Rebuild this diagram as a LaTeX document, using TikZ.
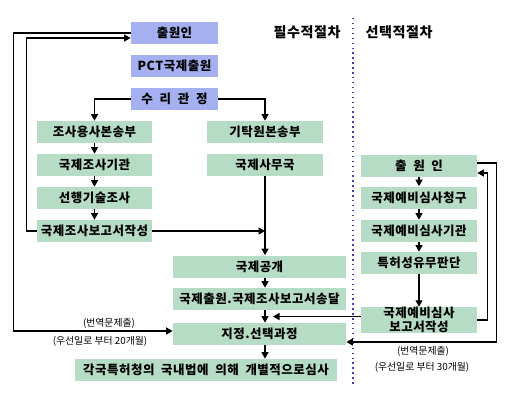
\documentclass[tikz,border=0pt]{standalone}
\usepackage{fontspec}
\newfontfamily\kr[LetterSpace=4,WordSpace=2]{Noto Sans CJK KR}
\newfontfamily\krnote{Noto Sans CJK KR}
\definecolor{recvblue}{RGB}{164,176,240}
\definecolor{stepgreen}{RGB}{182,220,198}
\definecolor{dotblue}{RGB}{70,60,190}
\usetikzlibrary{arrows.meta,positioning,calc}

\begin{document}
\begin{tikzpicture}[
  bluebox/.style={fill=recvblue, minimum width=1.74cm, minimum height=0.44cm, inner sep=0pt, font=\kr\bfseries\fontsize{7.1}{8}\selectfont},
  greenbox/.style={fill=stepgreen, minimum height=0.44cm, inner sep=0pt, font=\kr\bfseries\fontsize{7.1}{8}\selectfont},
  head/.style={font=\kr\bfseries\fontsize{8}{9}\selectfont},
  note/.style={font=\krnote\fontsize{5.6}{7}\selectfont},
  flow/.style={-{Triangle[length=1.3mm,width=1.4mm]}, line width=0.7pt}
]
  \useasboundingbox (0,0) rectangle (10.2,8.1);

  % Headings and divider
  \node[head] (must) at (6.14,7.46) {필수적절차};
  \node[head] (opt) at (7.98,7.46) {선택적절차};
  \draw[dotblue, dotted, thick] (7.06,7.74) -- (7.06,0.36);

  % PCT filing
  \node[bluebox] (chulwon) at (3.49,7.44) {출원인};
  \node[bluebox] (pct) at (3.49,6.78) {PCT국제출원};
  \node[bluebox] (suri) at (3.49,6.12) {수 리 관 정};

  % Search branch
  \node[greenbox, minimum width=2.30cm] (josa) at (1.89,5.46) {조사용사본송부};
  \node[greenbox, minimum width=2.30cm] (isa) at (1.89,4.80) {국제조사기관};
  \node[greenbox, minimum width=2.30cm] (prior) at (1.89,4.14) {선행기술조사};
  \node[greenbox, minimum width=2.30cm] (isr) at (1.89,3.48) {국제조사보고서작성};

  % Record copy branch
  \node[greenbox, minimum width=2.32cm] (gitak) at (5.30,5.46) {기탁원본송부};
  \node[greenbox, minimum width=2.32cm] (ib) at (5.30,4.80) {국제사무국};

  % Common steps
  \node[greenbox, minimum width=3.46cm] (pub) at (5.19,2.77) {국제공개};
  \node[greenbox, minimum width=3.46cm] (send) at (5.19,2.12) {국제출원.국제조사보고서송달};
  \node[greenbox, minimum width=3.46cm] (desig) at (5.19,1.42) {지정.선택과정};
  \node[greenbox, minimum width=5.24cm] (national) at (4.12,0.70) {각국특허청의 국내법에 의해 개별적으로심사};

  % Optional procedure
  \node[greenbox, minimum width=2.32cm] (chulwon2) at (8.38,4.79) {출 원 인};
  \node[greenbox, minimum width=2.32cm] (demand) at (8.38,4.15) {국제예비심사청구};
  \node[greenbox, minimum width=2.32cm] (ipea) at (8.38,3.48) {국제예비심사기관};
  \node[greenbox, minimum width=2.32cm] (patent) at (8.38,2.84) {특허성유무판단};
  \node[greenbox, minimum width=2.32cm, align=center] (iper) at (8.38,1.70) {국제예비심사\\보고서작성};
  \coordinate (merge) at (5.46,1.77);

  % Mandatory flow
  \draw[flow] (suri.west) -| (josa.north);
  \draw[flow] (suri.east) -| (gitak.north);
  \draw[flow] (josa.south) -- (isa.north);
  \draw[flow] (isa.south) -- (prior.north);
  \draw[flow] (prior.south) -- (isr.north);
  \draw[flow] (ib.south) -- (ib.south |- pub.north);
  \draw[flow] (isr.east) -- (isr.east -| ib.south);
  \draw[flow] (pub.south -| ib) -- (send.north -| ib);
  \draw[flow] (send.south -| ib) -- (desig.north -| ib);
  \draw[flow] (desig.south -| ib) -- (national.north -| ib);

  % Left loops (20 months)
  \draw[flow] (chulwon.west) -- ++(-2.34,0) |- ([yshift=0.06cm]desig.west);
  \draw[flow] (isr.west) -- ++(-0.2,0) |- ([yshift=-0.1cm]chulwon.west);
  \node[note] (trans1) at (2.18,1.64) {(번역문제출)};
  \node[note] (due1) at (2.00,1.27) {(우선일로 부터 20개월)};

  % Optional flow
  \draw[flow] (chulwon2.south) -- (demand.north);
  \draw[flow] (demand.south) -- (ipea.north);
  \draw[flow] (ipea.south) -- (patent.north);
  \draw[flow] (patent.south) -- (iper.north);
  \draw[flow] (iper.west |- merge) -- (merge);

  % Right loops (30 months)
  \draw[flow] ([yshift=0.05cm]chulwon2.east) -- ++(0.38,0) |- ([yshift=-0.16cm]desig.east);
  \draw[flow] (iper.east) -- ++(0.2,0) |- ([yshift=-0.15cm]chulwon2.east);
  \node[note] (trans2) at (8.46,1.08) {(번역문제출)};
  \node[note] (due2) at (8.44,0.76) {(우선일로 부터 30개월)};
\end{tikzpicture}
\end{document}
